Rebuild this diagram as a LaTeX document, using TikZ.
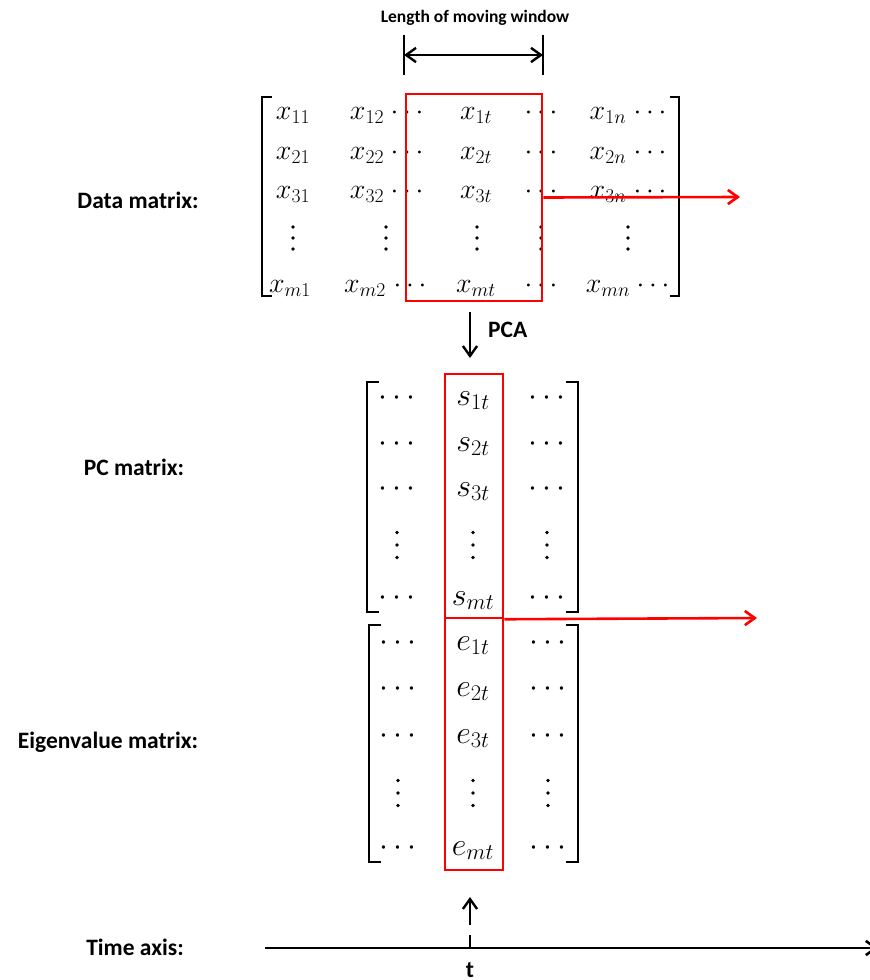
\RequirePackage{fix-cm}
\documentclass[tikz,border=0pt]{standalone}
\usepackage{fontspec}
\newfontfamily\lblfont{Carlito}
\usepackage{tikz}
\usetikzlibrary{arrows.meta}
\definecolor{winred}{HTML}{FF0000}
\tikzset{
  lbl/.style  ={font=\lblfont\bfseries\fontsize{23.5}{27}\selectfont, inner sep=0pt},
  wlbl/.style ={font=\lblfont\bfseries\fontsize{17.5}{20}\selectfont, inner sep=0pt},
  dent/.style ={font=\fontsize{28}{32}\selectfont, inner sep=0pt, anchor=base},
  pent/.style ={font=\fontsize{32}{36}\selectfont, inner sep=0pt, anchor=base},
  brk/.style  ={line width=2.3pt, line cap=rect},
  win/.style  ={draw=winred, line width=2.5pt, inner sep=0pt},
  rarr/.style ={-{Straight Barb[length=3.5mm,width=5mm]}, draw=winred, line width=2.6pt},
  karr/.style ={-{Straight Barb[length=3.5mm,width=5mm]}, line width=2.4pt},
  axisl/.style={line width=2.6pt},
  pics/vdts/.style={code={\foreach \k in {-1,0,1} \fill (0,\k*#1) circle (1.8pt);}},
}

\begin{document}
\begin{tikzpicture}[x=1pt,y=-1pt]
  \useasboundingbox (0,0) rectangle (870,980);
  % moving window
  \node[wlbl] (wlen) at (475,18) {Length of moving window};
  \draw[karr, line width=2.6pt, -] (404,35) -- (404,75);
  \draw[karr, line width=2.6pt, -] (543,35) -- (543,75);
  \coordinate (wl) at (404,55);
  \coordinate (wr) at (543,55);
  \draw[karr, {Straight Barb[length=3.5mm,width=5mm]}-{Straight Barb[length=3.5mm,width=5mm]}] (wl) -- (wr);
  % row labels
  \node[lbl] (ldata) at (138,200) {Data matrix:};
  \node[lbl] (lpc)   at (134,467) {PC matrix:};
  \node[lbl] (leig)  at (108,742) {Eigenvalue matrix:};
  \node[lbl] (ltime) at (135,947) {Time axis:};
  % data matrix
  \foreach \r/\y in {1/119,2/159,3/198}{
    \node[dent] (d\r a) at (293,\y) {$x_{\r1}$};
    \node[dent] (d\r b) at (367,\y) {$x_{\r2}$};
    \node[dent] (d\r c) at (407,\y) {$\cdots$};
    \node[dent] (d\r d) at (476,\y) {$x_{\r t}$};
    \node[dent] (d\r e) at (541,\y) {$\cdots$};
    \node[dent] (d\r f) at (608,\y) {$x_{\r n}$};
    \node[dent] (d\r g) at (650,\y) {$\cdots$};
  }
  \foreach \x in {293,386,477,541,628}
    \pic at (\x,238) {vdts=11};
  \node[dent] (dma) at (290,292) {$x_{m1}$};
  \node[dent] (dmb) at (365,292) {$x_{m2}$};
  \node[dent] (dmc) at (410,292) {$\cdots$};
  \node[dent] (dmd) at (476,292) {$x_{mt}$};
  \node[dent] (dme) at (541,292) {$\cdots$};
  \node[dent] (dmf) at (608,292) {$x_{mn}$};
  \node[dent] (dmg) at (653,292) {$\cdots$};
  \draw[brk] (271,97) -- (262,97) -- (262,296) -- (271,296);
  \draw[brk] (671,97) -- (679,97) -- (679,296) -- (671,296);
  % PC matrix
  \foreach \r/\y in {1/405,2/451,3/496}{
    \node[pent] (p\r a) at (397,\y) {$\cdots$};
    \node[pent] (p\r b) at (473,\y) {$s_{\r t}$};
    \node[pent] (p\r c) at (547,\y) {$\cdots$};
  }
  \foreach \x in {397,473,547}
    \pic at (\x,545) {vdts=12.5};
  \node[pent] (pma) at (397,605) {$\cdots$};
  \node[pent] (pmb) at (473,605) {$s_{mt}$};
  \node[pent] (pmc) at (547,605) {$\cdots$};
  \draw[brk] (378,382) -- (367,382) -- (367,612) -- (378,612);
  \draw[brk] (567,382) -- (578,382) -- (578,612) -- (567,612);
  % eigenvalue matrix
  \foreach \r/\y in {1/650,2/696,3/743}{
    \node[pent] (e\r a) at (398,\y) {$\cdots$};
    \node[pent] (e\r b) at (473,\y) {$e_{\r t}$};
    \node[pent] (e\r c) at (548,\y) {$\cdots$};
  }
  \foreach \x in {398,473,548}
    \pic at (\x,793) {vdts=12.5};
  \node[pent] (ema) at (398,855) {$\cdots$};
  \node[pent] (emb) at (473,855) {$e_{mt}$};
  \node[pent] (emc) at (548,855) {$\cdots$};
  \draw[brk] (380,625) -- (369,625) -- (369,862) -- (380,862);
  \draw[brk] (567,625) -- (578,625) -- (578,862) -- (567,862);
  % moving window boxes
  \node[win, minimum width=136pt, minimum height=207pt] (dwin) at (474,197.5) {};
  \node[win, minimum width=58pt, minimum height=244pt] (pwin) at (474,496) {};
  \node[win, minimum width=58pt, minimum height=252pt] (ewin) at (474,744) {};
  \coordinate (dend) at (740,197);
  \coordinate (pend) at (757,618);
  \draw[rarr] (dwin.east) -- (dend);
  \draw[rarr] (pwin.south east) -- (pend);
  % PCA step
  \coordinate (pcas) at (470,312);
  \coordinate (pcae) at (470,358);
  \draw[karr] (pcas) -- (pcae);
  \node[lbl, anchor=west] (pca) at (488,330) {PCA};
  % time axis
  \coordinate (ta0) at (265,948);
  \coordinate (ta1) at (878,948);
  \coordinate (tt) at (470,935);
  \coordinate (tu0) at (470,925);
  \coordinate (tu1) at (470,897);
  \draw[axisl, -{Straight Barb[length=3.5mm,width=5mm]}] (ta0) -- (ta1);
  \draw[axisl] (tt) -- (470,948);
  \draw[karr] (tu0) -- (tu1);
  \node[lbl] (tlab) at (470,970) {t};
\end{tikzpicture}
\end{document}
